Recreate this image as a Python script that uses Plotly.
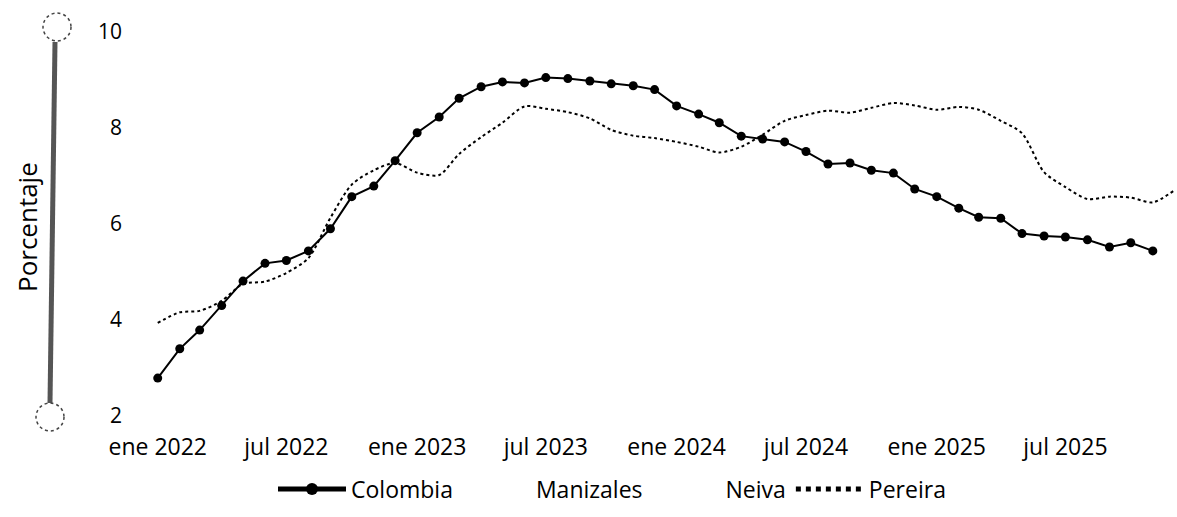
import pandas as pd
import plotly.graph_objects as go

# ---- data ----
colombia_months = pd.date_range("2022-01-01", periods=47, freq="MS")
colombia = [2.79, 3.40, 3.79, 4.30, 4.81, 5.18, 5.24, 5.44, 5.90, 6.57, 6.79, 7.32,
            7.90, 8.23, 8.62, 8.86, 8.96, 8.94, 9.05, 9.03, 8.98, 8.92, 8.88, 8.80,
            8.46, 8.29, 8.11, 7.83, 7.77, 7.71, 7.51, 7.25, 7.27, 7.12, 7.06, 6.73,
            6.57, 6.33, 6.14, 6.12, 5.80, 5.75, 5.73, 5.67, 5.52, 5.61, 5.44]

pereira_months = pd.date_range("2022-01-01", periods=48, freq="MS")
pereira = [3.94, 4.16, 4.19, 4.40, 4.75, 4.80, 4.98, 5.29, 6.13, 6.82, 7.12, 7.27,
           7.07, 7.02, 7.46, 7.81, 8.11, 8.45, 8.40, 8.33, 8.20, 7.96, 7.84, 7.79,
           7.71, 7.61, 7.49, 7.61, 7.86, 8.15, 8.27, 8.36, 8.32, 8.42, 8.52, 8.47,
           8.38, 8.44, 8.38, 8.15, 7.89, 7.08, 6.77, 6.52, 6.57, 6.55, 6.45, 6.70]

tick_vals = ["2022-01-01", "2022-07-01", "2023-01-01", "2023-07-01",
             "2024-01-01", "2024-07-01", "2025-01-01", "2025-07-01"]
tick_text = ["ene 2022", "jul 2022", "ene 2023", "jul 2023",
             "ene 2024", "jul 2024", "ene 2025", "jul 2025"]
y_ticks = [2, 4, 6, 8, 10]

FONT = "Open Sans"
fig = go.Figure()

fig.add_trace(go.Scatter(
    x=colombia_months, y=colombia, name="Colombia", mode="lines+markers",
    line=dict(color="black", width=2),
    marker=dict(color="black", size=9),
))
fig.add_trace(go.Scatter(
    x=[None], y=[None], name="Manizales", mode="lines",
    line=dict(color="white", width=2),
))
fig.add_trace(go.Scatter(
    x=[None], y=[None], name="Neiva", mode="lines",
    line=dict(color="white", width=2),
))
fig.add_trace(go.Scatter(
    x=pereira_months, y=pereira, name="Pereira", mode="lines",
    line=dict(color="black", width=2, dash="dot", shape="spline", smoothing=0.8),
))

# plot area geometry (pixels)
L, R, T, B = 130, 0, 32, 101
W, H = 1177 - L - R, 517 - T - B

def px(x):
    return (x - L) / W

def py(y):
    return (517 - B - y) / H

shapes = [
    dict(type="line", xref="paper", yref="paper",
         x0=px(55), y0=py(42), x1=px(50), y1=py(403),
         line=dict(color="#555555", width=5)),
    dict(type="circle", xref="paper", yref="paper",
         x0=px(43), x1=px(71), y0=py(13), y1=py(41),
         line=dict(color="#444444", width=1.5, dash="dot")),
    dict(type="circle", xref="paper", yref="paper",
         x0=px(36), x1=px(64), y0=py(403), y1=py(431),
         line=dict(color="#444444", width=1.5, dash="dot")),
]

fig.update_layout(
    width=1177, height=517,
    margin=dict(l=L, r=R, t=T, b=B),
    paper_bgcolor="white", plot_bgcolor="white",
    font=dict(family=FONT, size=23, color="black"),
    showlegend=True,
    legend=dict(orientation="h", x=px(612), xanchor="center", y=-0.19, yanchor="middle",
                font=dict(size=23, color="black"), itemwidth=68,
                itemsizing="constant"),
    shapes=shapes,
    annotations=[dict(text="Porcentaje", textangle=-90, xref="paper", yref="paper",
                      x=px(27), y=py(227), xanchor="center", yanchor="middle",
                      showarrow=False, font=dict(size=26, color="black"))],
)
fig.update_xaxes(range=["2021-11-23", "2025-12-05"], tickvals=tick_vals, ticktext=tick_text,
                 showgrid=False, zeroline=False, showline=False, ticks="",
                 ticklabelstandoff=15)
fig.update_yaxes(range=[2, 10], tickvals=y_ticks, showgrid=False, zeroline=False,
                 showline=False, ticks="", ticklabelstandoff=7,
                 tickfont=dict(size=21))

fig.write_html("out.html", config={"displayModeBar": False},
               post_script="document.body.style.margin='0';")
